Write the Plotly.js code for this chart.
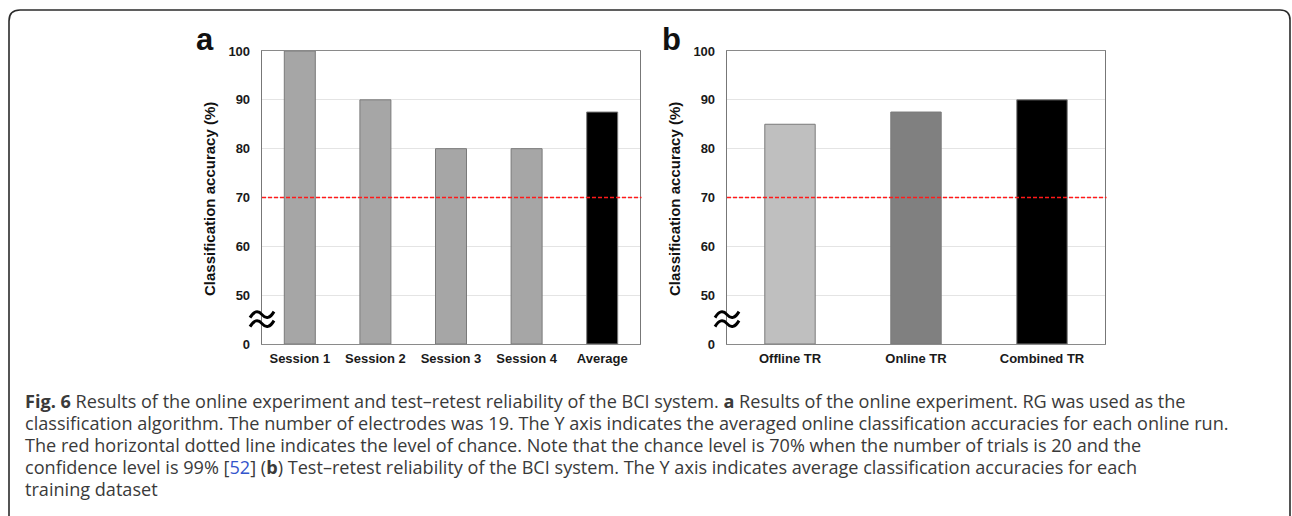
<!DOCTYPE html>
<html>
<head>
<meta charset="utf-8">
<script src="https://cdn.plot.ly/plotly-3.0.1.min.js"></script>
<style>
html,body{margin:0;padding:0;background:#fff;}
#chart{width:1292px;height:516px;}
</style>
</head>
<body>
<div id="chart"></div>
<script>
// ---- data ----
const sessionCategories = ["Session 1", "Session 2", "Session 3", "Session 4", "Average"];
const sessionAccuracy = [100, 90, 80, 80, 87.5];
const sessionColors = ["#a6a6a6", "#a6a6a6", "#a6a6a6", "#a6a6a6", "#000000"];

const trainingCategories = ["Offline TR", "Online TR", "Combined TR"];
const trainingAccuracy = [85, 87.5, 90];
const trainingColors = ["#bfbfbf", "#808080", "#000000"];

const yTickValues = [0, 50, 60, 70, 80, 90, 100];
const chanceLevel = 70;
const yAxisTitle = "Classification accuracy (%)";
const panelLabels = ["a", "b"];

const captionLines = [
  "<b>Fig. 6</b> Results of the online experiment and test–retest reliability of the BCI system. <b>a</b> Results of the online experiment. RG was used as the",
  "classification algorithm. The number of electrodes was 19. The Y axis indicates the averaged online classification accuracies for each online run.",
  "The red horizontal dotted line indicates the level of chance. Note that the chance level is 70% when the number of trials is 20 and the",
  "confidence level is 99% [<span style='color:#3355cc'>52</span>] (<b>b</b>) Test–retest reliability of the BCI system. The Y axis indicates average classification accuracies for each",
  "training dataset"
];

// ---- broken axis mapping: 0..50 compressed into one tick interval ----
const BREAK_LOW = 50, BREAK_STEP = 10;
function brk(v) { return v <= 0 ? 0 : (v >= BREAK_LOW ? v - BREAK_LOW + BREAK_STEP : v * BREAK_STEP / BREAK_LOW); }

const W = 1292, H = 516;
const px = v => v / W;
const py = v => 1 - v / H;

const chartFont = "Liberation Sans, Arial, sans-serif";

const traces = [
  {
    type: "bar", x: sessionCategories, y: sessionAccuracy.map(brk),
    xaxis: "x", yaxis: "y", width: 0.41,
    marker: { color: sessionColors, line: { color: "#7a7a7a", width: 1 } },
    hoverinfo: "skip"
  },
  {
    type: "bar", x: trainingCategories, y: trainingAccuracy.map(brk),
    xaxis: "x2", yaxis: "y2", width: 0.40,
    marker: { color: trainingColors, line: { color: "#7a7a7a", width: 1 } },
    hoverinfo: "skip"
  }
];

function yAxis(anchor) {
  return {
    domain: [py(344), py(51)], anchor: anchor, range: [0, brk(100)],
    tickmode: "array", tickvals: yTickValues.map(brk), ticktext: yTickValues.map(String),
    showgrid: true, gridcolor: "#e4e4e4", gridwidth: 1, zeroline: false,
    showline: true, mirror: true, linecolor: "#777777", linewidth: 1.3,
    ticks: "", ticklabelstandoff: 8,
    tickfont: { family: chartFont, size: 13, color: "#1a1a1a", weight: 700 },
    fixedrange: true
  };
}
function xAxis(domain, anchor) {
  return {
    domain: domain, anchor: anchor, type: "category",
    showgrid: false, zeroline: false,
    showline: true, mirror: true, linecolor: "#8a8a8a", linewidth: 1.3,
    ticks: "", ticklabelstandoff: 2,
    tickfont: { family: chartFont, size: 13, color: "#1a1a1a", weight: 700 },
    fixedrange: true
  };
}

function breakSymbol(xref, yref) {
  const tilde = (yc) => `M -12,${yc - 3} Q -6,${yc + 7} 0,${yc} Q 6,${yc - 7} 12,${yc + 3}`;
  return {
    type: "path", xref: xref, yref: yref,
    xsizemode: "pixel", ysizemode: "pixel",
    xanchor: 0, yanchor: 5.2,
    path: tilde(4) + " " + tilde(-5),
    line: { color: "#000", width: 3 }, layer: "above"
  };
}
function chanceLine(xref, yref) {
  return {
    type: "line", xref: xref, yref: yref, x0: 0, x1: 1.004, y0: brk(chanceLevel), y1: brk(chanceLevel),
    line: { color: "#ff1a1a", width: 1.3, dash: "4px,2px" }, layer: "above"
  };
}

const frame = {
  type: "path", xref: "paper", yref: "paper",
  xsizemode: "pixel", ysizemode: "pixel", xanchor: 0, yanchor: 1,
  path: "M 9,-540 L 9,-21 Q 9,-10 20,-10 L 1280,-10 Q 1290,-10 1290,-20 L 1290,-540",
  line: { color: "#2b2b2b", width: 1.6 }
};

const annotations = [];
// panel labels
[[205, panelLabels[0]], [671, panelLabels[1]]].forEach(([x, t]) => {
  annotations.push({ xref: "paper", yref: "paper", x: px(x), y: py(39), xanchor: "center", yanchor: "middle",
    text: t, showarrow: false, font: { family: chartFont, size: 31, color: "#111", weight: 700 } });
});
// y titles
[209, 674].forEach(x => {
  annotations.push({ xref: "paper", yref: "paper", x: px(x), y: py(199), xanchor: "center", yanchor: "middle",
    text: yAxisTitle, textangle: -90, showarrow: false,
    font: { family: chartFont, size: 15, color: "#111", weight: 700 } });
});
// caption
const capY = [401, 423, 445, 467, 489];
captionLines.forEach((t, i) => {
  annotations.push({ xref: "paper", yref: "paper", x: px(23), y: py(capY[i]), xanchor: "left", yanchor: "middle",
    text: t, showarrow: false, align: "left",
    font: { family: "Open Sans, sans-serif", size: 18.1, color: "#3a3a3a" } });
});

const layout = {
  width: W, height: H,
  margin: { l: 0, r: 0, t: 0, b: 0 },
  paper_bgcolor: "#fff", plot_bgcolor: "#fff",
  showlegend: false, hovermode: false, bargap: 0,
  xaxis: xAxis([px(262), px(640)], "y"),
  yaxis: yAxis("x"),
  xaxis2: xAxis([px(727), px(1105)], "y2"),
  yaxis2: yAxis("x2"),
  shapes: [frame, chanceLine("x domain", "y"), chanceLine("x2 domain", "y2"), breakSymbol("x domain", "y"), breakSymbol("x2 domain", "y2")],
  annotations: annotations
};

Plotly.newPlot("chart", traces, layout, { staticPlot: true, displayModeBar: false });
</script>
</body>
</html>
